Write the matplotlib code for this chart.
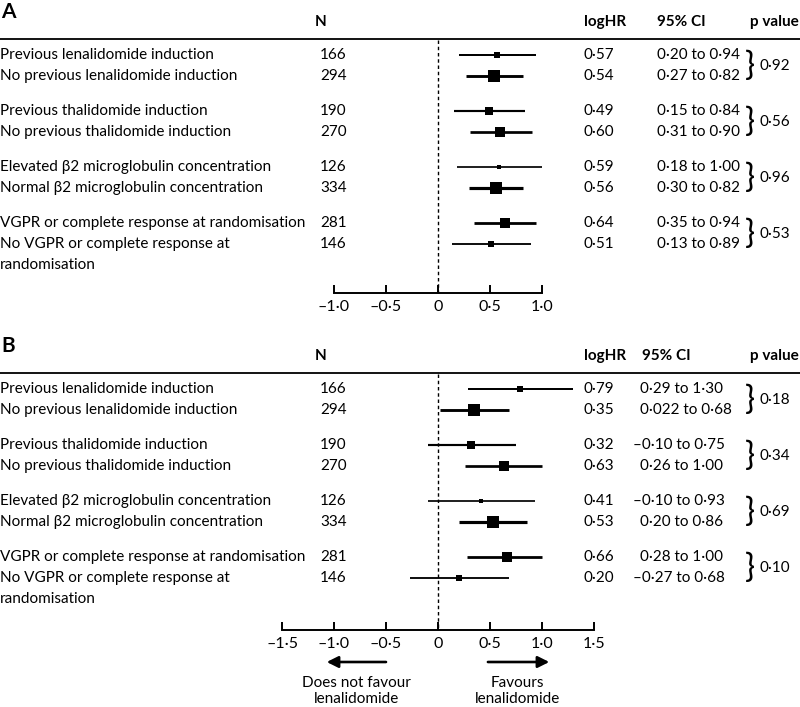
import numpy as np
import matplotlib
matplotlib.use('Agg')
import matplotlib.pyplot as plt
import matplotlib.transforms as mtransforms

plt.rcParams['font.family'] = ['Lato', 'DejaVu Sans']
plt.rcParams['font.size'] = 11

# 데이터
labels = [
    "Previous lenalidomide induction",
    "No previous lenalidomide induction",
    "Previous thalidomide induction",
    "No previous thalidomide induction",
    "Elevated β2 microglobulin concentration",
    "Normal β2 microglobulin concentration",
    "VGPR or complete response at randomisation",
    "No VGPR or complete response at\nrandomisation",
]
n_patients = [166, 294, 190, 270, 126, 334, 281, 146]

# 패널 A
a_loghr = [0.57, 0.54, 0.49, 0.60, 0.59, 0.56, 0.64, 0.51]
a_lo = [0.20, 0.27, 0.15, 0.31, 0.18, 0.30, 0.35, 0.13]
a_hi = [0.94, 0.82, 0.84, 0.90, 1.00, 0.82, 0.94, 0.89]
a_loghr_txt = ["0·57", "0·54", "0·49", "0·60", "0·59", "0·56", "0·64", "0·51"]
a_ci_txt = ["0·20 to 0·94", "0·27 to 0·82", "0·15 to 0·84", "0·31 to 0·90",
            "0·18 to 1·00", "0·30 to 0·82", "0·35 to 0·94", "0·13 to 0·89"]
a_pvals = ["0·92", "0·56", "0·96", "0·53"]
a_ticks = [-1.0, -0.5, 0, 0.5, 1.0]
a_ticklabels = ["–1·0", "–0·5", "0", "0·5", "1·0"]

# 패널 B
b_loghr = [0.79, 0.35, 0.32, 0.63, 0.41, 0.53, 0.66, 0.20]
b_lo = [0.29, 0.022, -0.10, 0.26, -0.10, 0.20, 0.28, -0.27]
b_hi = [1.30, 0.68, 0.75, 1.00, 0.93, 0.86, 1.00, 0.68]
b_loghr_txt = ["0·79", "0·35", "0·32", "0·63", "0·41", "0·53", "0·66", "0·20"]
b_ci_txt = ["0·29 to 1·30", "0·022 to 0·68", "–0·10 to 0·75", "0·26 to 1·00",
            "–0·10 to 0·93", "0·20 to 0·86", "0·28 to 1·00", "–0·27 to 0·68"]
b_pvals = ["0·18", "0·34", "0·69", "0·10"]
b_ticks = [-1.5, -1.0, -0.5, 0, 0.5, 1.0, 1.5]
b_ticklabels = ["–1·5", "–1·0", "–0·5", "0", "0·5", "1·0", "1·5"]

W, H = 800, 707
X0, SCALE = 438, 104  # x=0 위치(px), 1 단위당 px

fig = plt.figure(figsize=(W / 100, H / 100), dpi=100)


def row_positions(top):
    # 그룹 안 21px, 그룹 사이 35px
    return [top + (i // 2) * 56 + (i % 2) * 21 for i in range(len(labels))]


def draw_panel(letter, top, loghr, lo, hi, loghr_txt, ci_txt, pvals,
               ticks, ticklabels, ci_x, ci_hdr_x, axis_y):
    ax = fig.add_axes([0, 0, 1, 1])
    ax.patch.set_visible(False)
    ax.set_xlim(-X0 / SCALE, (W - X0) / SCALE)
    ax.set_ylim(H, 0)
    for s in ['top', 'left', 'right']:
        ax.spines[s].set_visible(False)
    ax.yaxis.set_visible(False)
    ax.spines['bottom'].set_position(('data', axis_y))
    ax.spines['bottom'].set_bounds(ticks[0], ticks[-1])
    ax.spines['bottom'].set_linewidth(1.4)
    ax.set_xticks(ticks)
    ax.set_xticklabels(ticklabels)
    ax.tick_params(axis='x', direction='in', length=6, width=1.4,
                   labelsize=11.5, pad=5)

    tr = mtransforms.blended_transform_factory(fig.transFigure, ax.transData)

    hdr_y = top - 33
    ax.text(1 / W, top - 43, letter, transform=tr, fontsize=15,
            fontweight='bold', va='center', ha='left')
    ax.text(315 / W, hdr_y, "N", transform=tr, fontweight='bold', va='center')
    ax.text(584 / W, hdr_y, "logHR", transform=tr, fontweight='bold', va='center')
    ax.text(ci_hdr_x / W, hdr_y, "95% CI", transform=tr, fontweight='bold', va='center')
    ax.text(750 / W, hdr_y, "p value", transform=tr, fontweight='bold', va='center')
    ax.axhline(top - 16, color='black', lw=1.3)

    ys = row_positions(top)
    ax.vlines(0, top - 15, axis_y, colors='black', lw=1.0, linestyles=(0, (2.5, 2)))

    for i, y in enumerate(ys):
        lines = labels[i].split("\n")
        for j, line in enumerate(lines):
            ax.text(0, y + 21 * j, line, transform=tr, va='center', ha='left')
        ax.text(320 / W, y, str(n_patients[i]), transform=tr, va='center')
        ax.text(584 / W, y, loghr_txt[i], transform=tr, va='center')
        shift = 7 if ci_txt[i].startswith("–") else 0
        ax.text((ci_x - shift) / W, y, ci_txt[i], transform=tr, va='center')

        n = n_patients[i]
        ax.plot([lo[i], hi[i]], [y, y], color='black', lw=0.6 + n / 200,
                solid_capstyle='butt')
        ax.plot(loghr[i], y, marker='s', color='black', ms=n / 37,
                markeredgewidth=0)

    for g, p in enumerate(pvals):
        ymid = (ys[2 * g] + ys[2 * g + 1]) / 2
        ax.text(745 / W, ymid, "}", transform=tr, va='center', ha='left',
                fontsize=24, fontweight='normal')
        ax.text(759 / W, ymid, p, transform=tr, va='center', ha='left')
    return ax


draw_panel("A", 55, a_loghr, a_lo, a_hi, a_loghr_txt, a_ci_txt, a_pvals,
           a_ticks, a_ticklabels, ci_x=657, ci_hdr_x=657, axis_y=293)
axB = draw_panel("B", 389, b_loghr, b_lo, b_hi, b_loghr_txt, b_ci_txt, b_pvals,
                 b_ticks, b_ticklabels, ci_x=640, ci_hdr_x=642, axis_y=630)

# 방향 화살표
arrow = dict(arrowstyle='-|>', lw=1.9, color='black', mutation_scale=17,
             shrinkA=0, shrinkB=0)
axB.annotate('', xy=(-1.07, 662), xytext=(-0.5, 662), arrowprops=arrow)
axB.annotate('', xy=(1.07, 662), xytext=(0.48, 662), arrowprops=arrow)
axB.text(-0.78, 691, "Does not favour\nlenalidomide", ha='center', va='center',
         linespacing=1.25)
axB.text(0.76, 691, "Favours\nlenalidomide", ha='center', va='center',
         linespacing=1.25)

plt.savefig("out.png", dpi=100)
